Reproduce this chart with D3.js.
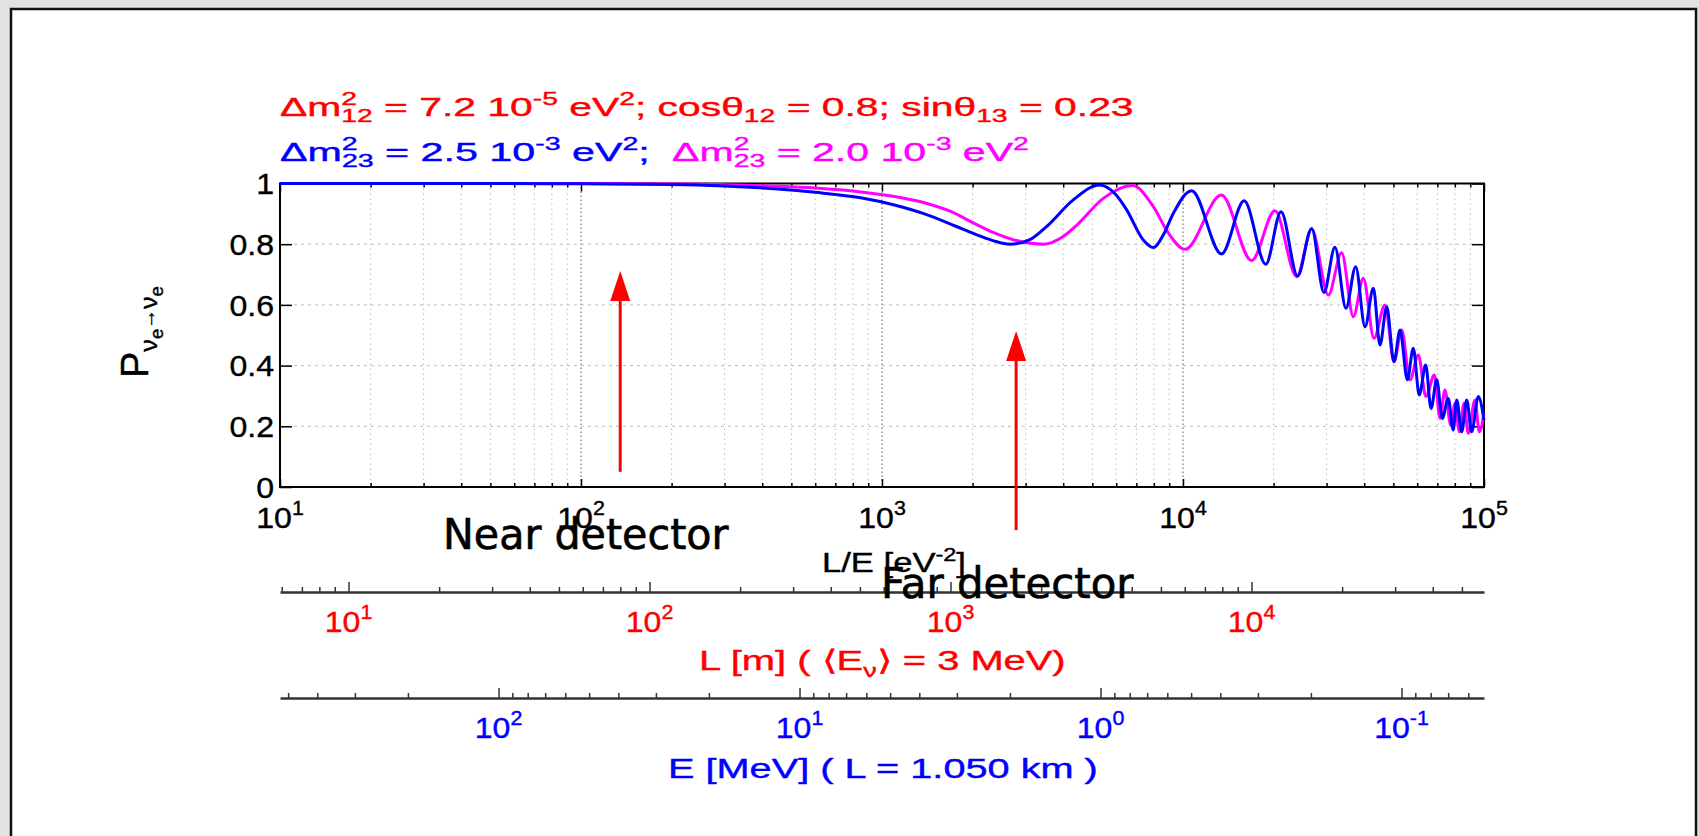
<!DOCTYPE html>
<html>
<head>
<meta charset="utf-8">
<script src="https://cdn.jsdelivr.net/npm/d3@7"></script>
<style>
  body { margin: 0; background: #e2e2e2; }
  text { font-family: "Liberation Sans", Arial, sans-serif; }
</style>
</head>
<body>
<script>

// ---- data ----
// L/E [eV^-2] and survival probability, blue: dm23 = 2.5e-3
const blueLE = [10, 50, 100, 200, 300, 450, 600, 850, 1100, 1400, 1750, 2100, 2350, 2660, 3100, 3520, 4320, 5280,
  6000, 6500, 7380, 7970, 8600, 9290, 10690, 13430, 15970, 18840, 21170, 24040, 26760, 29400, 31970,
  34790, 37470, 40250, 42900, 45120, 47500, 50230, 52600, 55630, 58210, 60950, 64010, 66680, 69650,
  72700, 76050, 79020, 81180, 84320, 87600, 91000, 95740, 100000];
const blueP = [1.000, 1.000, 0.999, 0.997, 0.992, 0.982, 0.971, 0.953, 0.929, 0.898, 0.860, 0.828, 0.811, 0.800, 0.815, 0.858, 0.946, 0.995,
  0.962, 0.913, 0.814, 0.789, 0.830, 0.902, 0.976, 0.768, 0.943, 0.734, 0.907, 0.695, 0.852, 0.641, 0.790,
  0.589, 0.726, 0.528, 0.655, 0.468, 0.594, 0.413, 0.517, 0.353, 0.457, 0.303, 0.402, 0.259, 0.353,
  0.226, 0.292, 0.188, 0.287, 0.182, 0.287, 0.182, 0.298, 0.220];

// magenta: dm23 = 2.0e-3
const magLE = [10, 100, 200, 300, 450, 600, 850, 1100, 1400, 1700, 2010, 2350, 2750, 3450, 4000, 4440, 5435, 6790,
  7970, 8900, 10150, 13430, 16900, 20210, 23860, 26760, 30400, 33650, 36810, 39720, 43110, 46880,
  50230, 53280, 56770, 60490, 64120, 68390, 71450, 74190, 77520, 80120, 82790, 85840, 88670, 93340,
  96470, 100000];
const magP = [1.000, 1.000, 0.999, 0.996, 0.991, 0.985, 0.972, 0.957, 0.935, 0.907, 0.870, 0.838, 0.814, 0.800, 0.825, 0.863, 0.951, 0.993,
  0.924, 0.840, 0.783, 0.962, 0.746, 0.910, 0.693, 0.849, 0.633, 0.772, 0.561, 0.688, 0.490, 0.600,
  0.413, 0.517, 0.353, 0.435, 0.298, 0.369, 0.226, 0.320, 0.204, 0.276, 0.182, 0.276, 0.177, 0.287,
  0.182, 0.244];

const yTicks = [0, 0.2, 0.4, 0.6, 0.8, 1];
const yTickLabels = ["0", "0.2", "0.4", "0.6", "0.8", "1"];
const lePowers = [1, 2, 3, 4, 5];      // L/E axis labels 10^p
const lPowers = [1, 2, 3, 4];          // L [m] axis labels
const ePowers = [2, 1, 0, -1];         // E [MeV] axis labels

// detector arrows (L/E position, from / to in P units)
const arrows = [
  {le: 135, from: 0.05, to: 0.712},
  {le: 2790, from: -0.142, to: 0.514}
];

// unit conversions for the extra axes
const lePerMetre = 1.689;   // <E> = 3 MeV
const leTimesE = 5321;      // L = 1.050 km, E in MeV

// ---- layout ----
const W = 1699, H = 836;
const plot = {left: 280, right: 1484, top: 183.5, bottom: 487};
const SX = 1.07;   // the figure is a bit stretched horizontally on the slide
const FS = 30;     // tick label size

const svg = d3.select("body").append("svg")
    .attr("width", W)
    .attr("height", H);

svg.append("rect").attr("width", W).attr("height", H).attr("fill", "#e2e2e2");
svg.append("rect")
    .attr("x", 11).attr("y", 9).attr("width", 1685).attr("height", 850)
    .attr("fill", "#fff").attr("stroke", "#111").attr("stroke-width", 2.5);

const x = d3.scaleLog().domain([10, 1e5]).range([plot.left, plot.right]);
const y = d3.scaleLinear().domain([0, 1]).range([plot.bottom, plot.top]);
const lScale = d3.scaleLog().domain([10 / lePerMetre, 1e5 / lePerMetre]).range([plot.left, plot.right]);
const eScale = d3.scaleLog().domain([leTimesE / 10, leTimesE / 1e5]).range([plot.left, plot.right]);

const isDecade = d => Math.abs(Math.log10(d) - Math.round(Math.log10(d))) < 1e-9;

// ---- helpers for text ----
function spans(text, parts) {
  parts.forEach(p => {
    const ts = text.append("tspan").text(p.t);
    if (p.s) ts.style("font-size", p.s + "px");
    if (p.dy) ts.attr("dy", p.dy);
    if (p.dx) ts.attr("dx", p.dx);
  });
  return text;
}

function stretched(parent, px, py, sx, anchor, size, color) {
  return parent.append("g")
      .attr("transform", "translate(" + px + "," + py + ") scale(" + sx + ",1)")
    .append("text")
      .attr("text-anchor", anchor)
      .style("font-size", size + "px")
      .attr("fill", color)
      .attr("stroke", color)
      .attr("stroke-width", 0.4);
}

// squeeze/stretch a text so it spans x0..x1, baseline at yb
function fitBox(text, x0, x1, yb) {
  const b = text.node().getBBox();
  const s = (x1 - x0) / b.width;
  d3.select(text.node().parentNode)
      .attr("transform", "translate(" + (x0 - b.x * s) + "," + yb + ") scale(" + s + ",1)");
}

function sciLabel(parent, px, py, p, color) {
  const t = stretched(parent, px, py, SX, "middle", FS, color);
  spans(t, [{t: "10"}, {t: String(p), s: 20, dy: -13}]);
}

// ---- grid ----
const grid = svg.append("g");
grid.selectAll(".vg").data(x.ticks()).join("line")
    .attr("x1", d => x(d)).attr("x2", d => x(d))
    .attr("y1", plot.top).attr("y2", plot.bottom)
    .attr("stroke", d => isDecade(d) ? "#555" : "#bdbdbd")
    .attr("stroke-width", 1)
    .attr("stroke-dasharray", d => isDecade(d) ? "1.5,2.5" : "1.5,3.5");

grid.selectAll(".hg").data(yTicks.slice(1, -1)).join("line")
    .attr("x1", plot.left).attr("x2", plot.right)
    .attr("y1", d => y(d)).attr("y2", d => y(d))
    .attr("stroke", "#bdbdbd")
    .attr("stroke-dasharray", "3,4");

// ---- frame and ticks ----
svg.append("rect")
    .attr("x", plot.left).attr("y", plot.top)
    .attr("width", plot.right - plot.left).attr("height", plot.bottom - plot.top)
    .attr("fill", "none").attr("stroke", "#000").attr("stroke-width", 2);

const xMinor = x.ticks().filter(d => !isDecade(d));
const xMajor = x.ticks().filter(isDecade);

function tickAxis(axis, tx, ty) {
  svg.append("g")
      .attr("transform", "translate(" + tx + "," + ty + ")")
      .call(axis)
      .call(g => g.select(".domain").remove())
      .call(g => g.selectAll("line").attr("stroke", "#000").attr("stroke-width", 1.5));
}

tickAxis(d3.axisTop(x).tickValues(xMinor).tickSize(4).tickFormat(""), 0, plot.bottom);
tickAxis(d3.axisTop(x).tickValues(xMajor).tickSize(8).tickFormat(""), 0, plot.bottom);
tickAxis(d3.axisBottom(x).tickValues(xMinor).tickSize(4).tickFormat(""), 0, plot.top);
tickAxis(d3.axisBottom(x).tickValues(xMajor).tickSize(8).tickFormat(""), 0, plot.top);
tickAxis(d3.axisRight(y).tickValues(yTicks).tickSize(12).tickFormat(""), plot.left, 0);
tickAxis(d3.axisLeft(y).tickValues(yTicks).tickSize(12).tickFormat(""), plot.right, 0);

// ---- curves ----
const line = d3.line()
    .x(d => x(d[0]))
    .y(d => y(d[1]))
    .curve(d3.curveMonotoneX);

svg.append("path")
    .datum(d3.zip(magLE, magP))
    .attr("d", line)
    .attr("fill", "none")
    .attr("stroke", "#ff00ff")
    .attr("stroke-width", 3);

svg.append("path")
    .datum(d3.zip(blueLE, blueP))
    .attr("d", line)
    .attr("fill", "none")
    .attr("stroke", "#0000ff")
    .attr("stroke-width", 3);

// ---- tick labels ----
yTicks.forEach((v, i) => {
  stretched(svg, 274, y(v), SX, "end", FS, "#000")
      .attr("dy", "0.36em")
      .text(yTickLabels[i]);
});
lePowers.forEach(p => sciLabel(svg, x(Math.pow(10, p)), 528, p, "#000"));

// ---- extra axes: L [m] and E [MeV] ----
function extraAxis(scale, ty, powers, color) {
  const ticks = scale.ticks();
  const g = svg.append("g").attr("transform", "translate(0," + ty + ")");
  g.call(d3.axisTop(scale).tickValues(ticks.filter(d => !isDecade(d))).tickSize(5).tickSizeOuter(0).tickFormat(""));
  g.append("g").call(d3.axisTop(scale).tickValues(ticks.filter(isDecade)).tickSize(10).tickSizeOuter(0).tickFormat(""))
      .call(a => a.select(".domain").remove());
  g.selectAll(".domain").attr("stroke", "#333").attr("stroke-width", 2.5);
  g.selectAll("line").attr("stroke", "#333").attr("stroke-width", 1.5);
  powers.forEach(p => sciLabel(svg, scale(Math.pow(10, p)), ty + 40, p, color));
}
extraAxis(lScale, 592, lPowers, "#ff0000");
extraAxis(eScale, 698, ePowers, "#0000ff");

// ---- axis titles ----
let t = stretched(svg, 0, 0, 1, "start", 28, "#000");
spans(t, [{t: "L/E [eV"}, {t: "-2", s: 19, dy: -11}, {t: "]", dy: 11}]);
fitBox(t, 822, 966, 572);

t = stretched(svg, 0, 0, 1, "start", 28, "#ff0000");
spans(t, [{t: "L [m] ( \u27e8E"}, {t: "\u03bd", s: 19, dy: 7}, {t: "\u27e9 = 3 MeV)", dy: -7}]);
fitBox(t, 699, 1067, 670);

t = stretched(svg, 0, 0, 1, "start", 28, "#0000ff");
t.text("E [MeV] ( L = 1.050 km )");
fitBox(t, 668, 1098, 778);

// y axis title P_{ve -> ve}
const yl = svg.append("g");
const ylt = yl.append("text").style("font-size", "30px").attr("fill", "#000")
    .attr("stroke", "#000").attr("stroke-width", 0.3);
spans(ylt, [{t: "P"}, {t: "\u03bd", s: 19, dy: 7}, {t: "e", s: 14, dy: 5}, {t: "\u2192", s: 15, dy: -6},
            {t: "\u03bd", s: 19, dy: 1}, {t: "e", s: 14, dy: 5}]);
const yb = ylt.node().getBBox();
yl.attr("transform", "translate(140,332) rotate(-90) scale(" + (92 / yb.width) + "," + (54 / yb.height) + ") translate(" +
    (-yb.x - yb.width / 2) + "," + (-yb.y - yb.height / 2) + ")");

// ---- parameter lines on top ----
t = stretched(svg, 0, 0, 1, "start", 26, "#ff0000");
spans(t, [{t: "\u0394m"}, {t: "2", s: 18, dy: -11}, {t: "12", s: 18, dx: -10, dy: 17}, {t: " = 7.2 10", dy: -6},
          {t: "-5", s: 18, dy: -11}, {t: " eV", dy: 11}, {t: "2", s: 18, dy: -11}, {t: "; cos\u03b8", dy: 11},
          {t: "12", s: 18, dy: 6}, {t: " = 0.8; sin\u03b8", dy: -6}, {t: "13", s: 18, dy: 6}, {t: " = 0.23", dy: -6}]);
fitBox(t, 280, 1134, 116);

t = stretched(svg, 0, 0, 1, "start", 26, "#0000ff");
spans(t, [{t: "\u0394m"}, {t: "2", s: 18, dy: -11}, {t: "23", s: 18, dx: -10, dy: 17}, {t: " = 2.5 10", dy: -6},
          {t: "-3", s: 18, dy: -11}, {t: " eV", dy: 11}, {t: "2", s: 18, dy: -11}, {t: ";", dy: 11}]);
fitBox(t, 280, 650, 161);

t = stretched(svg, 0, 0, 1, "start", 26, "#ff00ff");
spans(t, [{t: "\u0394m"}, {t: "2", s: 18, dy: -11}, {t: "23", s: 18, dx: -10, dy: 17}, {t: " = 2.0 10", dy: -6},
          {t: "-3", s: 18, dy: -11}, {t: " eV", dy: 11}, {t: "2", s: 18, dy: -11}]);
fitBox(t, 672, 1029, 161);

// ---- arrows ----
arrows.forEach(a => {
  const ax = x(a.le), tip = y(a.to);
  svg.append("line")
      .attr("x1", ax).attr("x2", ax)
      .attr("y1", y(a.from)).attr("y2", tip + 28)
      .attr("stroke", "#ff0000").attr("stroke-width", 3);
  svg.append("path")
      .attr("d", "M" + ax + "," + tip + "L" + (ax - 10) + "," + (tip + 30) + "L" + (ax + 10) + "," + (tip + 30) + "Z")
      .attr("fill", "#ff0000");
});

// ---- slide annotations ----
t = stretched(svg, 0, 0, 1, "start", 42, "#000")
    .attr("stroke-width", 0.6)
    .style("font-family", "'DejaVu Sans Condensed', 'DejaVu Sans', sans-serif")
    .text("Near detector");
fitBox(t, 443, 729, 549);

t = stretched(svg, 0, 0, 1, "start", 42, "#000")
    .attr("stroke-width", 0.6)
    .style("font-family", "'DejaVu Sans Condensed', 'DejaVu Sans', sans-serif")
    .text("Far detector");
fitBox(t, 881, 1134, 598);

</script>
</body>
</html>
